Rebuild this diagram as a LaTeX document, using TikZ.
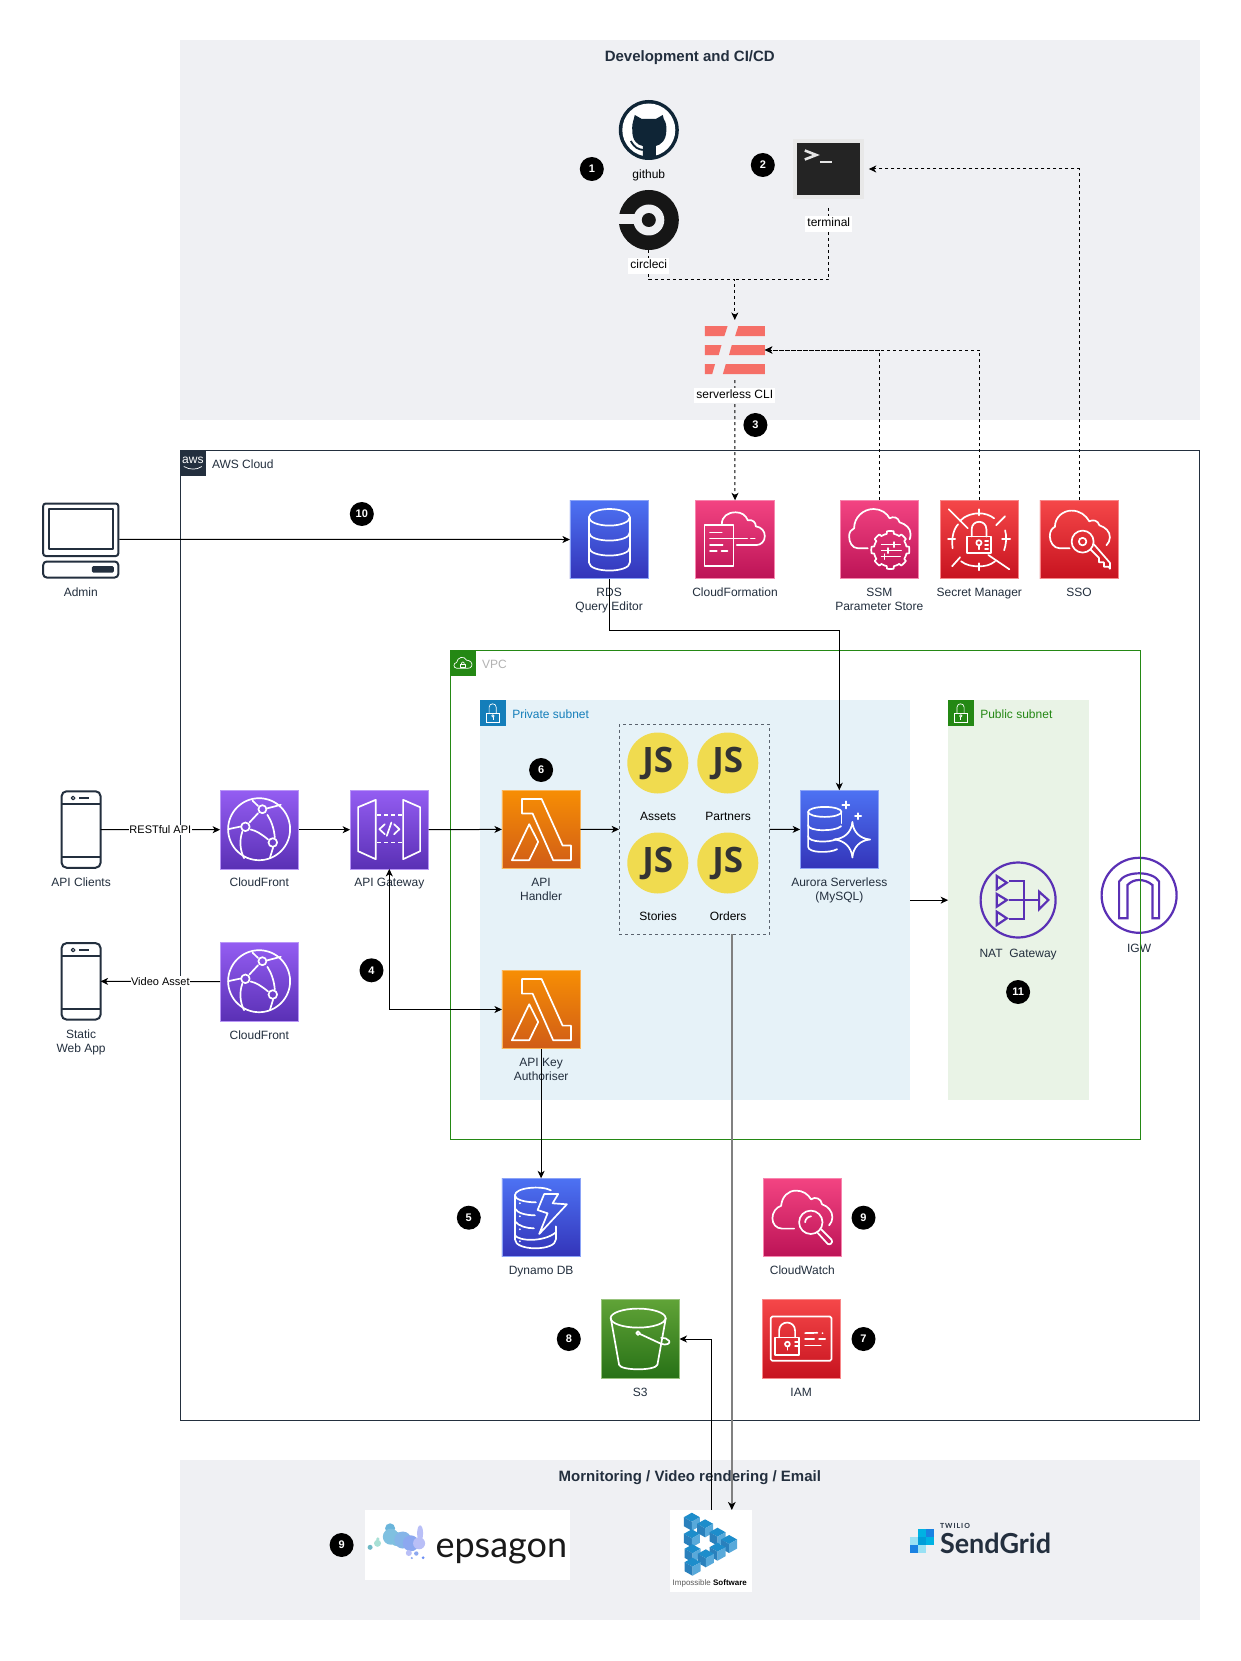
\documentclass[tikz,border=0pt]{standalone}
\usepackage{fontspec}
\usepackage{graphicx}
\usetikzlibrary{arrows.meta,calc}
\setmainfont{Liberation Sans}
\newfontfamily\latofont{Lato}
\newfontfamily\latospaced[LetterSpace=14]{Lato}
\newfontfamily\opensansfont{Open Sans}
\definecolor{ink}{HTML}{232F3E}
\definecolor{panelgrey}{HTML}{EFF0F3}
\definecolor{vpcgreen}{HTML}{248814}
\definecolor{privblue}{HTML}{147EBA}
\definecolor{privfill}{HTML}{E6F2F8}
\definecolor{pubfill}{HTML}{E9F3E6}
\definecolor{netpurple}{HTML}{5A30B5}
\definecolor{jsyellow}{HTML}{F0DB4F}
\definecolor{slsred}{HTML}{F56F67}
\definecolor{ghdark}{HTML}{0F2536}
\definecolor{ccidark}{HTML}{161616}
\definecolor{purtop}{HTML}{945DF2}\definecolor{purbot}{HTML}{5A30B5}
\definecolor{orgtop}{HTML}{F78E04}\definecolor{orgbot}{HTML}{D05C17}
\definecolor{blutop}{HTML}{4D72F3}\definecolor{blubot}{HTML}{3334B9}
\definecolor{pnktop}{HTML}{F34482}\definecolor{pnkbot}{HTML}{BC1356}
\definecolor{redtop}{HTML}{F54749}\definecolor{redbot}{HTML}{C7131F}
\definecolor{grntop}{HTML}{60A337}\definecolor{grnbot}{HTML}{277116}
\definecolor{imptop}{HTML}{1D8DCB}\definecolor{impleft}{HTML}{2A80BC}\definecolor{impright}{HTML}{58A9DA}
\definecolor{sgmid}{HTML}{00B2E3}\definecolor{sgdeep}{HTML}{1A82E2}\definecolor{sgpale}{HTML}{99E1F4}\definecolor{sgcore}{HTML}{009DD9}
\definecolor{rabA}{HTML}{6FB9C6}\definecolor{rabB}{HTML}{A8E0D5}\definecolor{rabC}{HTML}{6AB5DB}
\definecolor{rabD}{HTML}{7FC0E0}\definecolor{rabE}{HTML}{85B5E8}\definecolor{rabF}{HTML}{8CA8F0}
\definecolor{rabG}{HTML}{B9BFF7}\definecolor{rabH}{HTML}{6C8FF5}
\tikzset{
  panel/.style={rectangle,fill=panelgrey,draw=none,inner sep=0,outer sep=0},
  frame/.style={rectangle,draw=#1,fill=none,inner sep=0,outer sep=0},
  title/.style={font=\fontsize{15}{18}\selectfont\bfseries,text=ink,inner sep=0,yshift=-2pt},
  lbl/.style={font=\fontsize{12}{14}\selectfont,text=ink,align=center,inner sep=0,text height=8.6pt,text depth=2.6pt,yshift=-2pt},
  lbltwo/.style={font=\fontsize{12}{14}\selectfont,text=ink,align=center,inner sep=0,yshift=-2pt},
  lblk/.style={lbl,text=black},
  lblbg/.style={lblk,fill=white,inner xsep=2pt,inner ysep=2pt},
  edgelbl/.style={font=\fontsize{11}{13}\selectfont,text=black,fill=white,inner xsep=0.5pt,inner ysep=1pt},
  badge/.style={circle,fill=black,text=white,minimum size=24pt,inner sep=0,font=\fontsize{11}{11}\selectfont\bfseries},
  awsicon/.style 2 args={rectangle,minimum width=78.4pt,minimum height=78.4pt,inner sep=0,outer sep=0,top color=#1,bottom color=#2,draw=#1!65!white,line width=.7pt},
  purpleicon/.style={awsicon={purtop}{purbot}},
  conn/.style={draw=black,line width=1pt,-{Stealth[length=7.5pt,width=7pt,inset=2.2pt]}},
  biconn/.style={draw=black,line width=1pt,{Stealth[length=7.5pt,width=7pt,inset=2.2pt]}-{Stealth[length=7.5pt,width=7pt,inset=2.2pt]}},
  dconn/.style={conn,dash pattern=on 3pt off 3pt},
  dplain/.style={draw=black,line width=1pt,dash pattern=on 3pt off 3pt},
  greyconn/.style={draw=black!50,line width=2pt,-{Stealth[length=8pt,width=7.5pt,inset=2.2pt,color=black]}},
  glyph/.style={color=white,line width=1.7pt,line join=round,line cap=round},
  netnode/.style={circle,draw=netpurple,line width=2.2pt,minimum size=75pt,inner sep=0,outer sep=0},
  netline/.style={color=netpurple,line width=2.2pt,line join=miter},
  device/.style={color=ink,line width=2pt,line join=round},
  jsnode/.style={circle,fill=jsyellow,minimum size=61pt,inner sep=0,outer sep=0,text=black!80,font=\fontsize{35}{35}\selectfont\opensansfont\bfseries},
  smallbox/.style={rectangle,minimum width=25.4pt,minimum height=25.6pt,inner sep=0,outer sep=0},
}
\newcommand\twolines[2]{\rule{0pt}{8.6pt}#1\\\rule[-2.6pt]{0pt}{2.6pt}#2}
\newcommand\gCloudFront[1]{\begin{scope}[shift={(#1.north west)},glyph]
 \draw (39,38.7) circle (31);
 \draw (42.3,18.7) circle (4); \draw (25.3,36.3) circle (4.3); \draw (52.7,52) circle (4.3);
 \draw (22.3,41) .. controls (19,50) and (20,60) .. (24,67.7);
 \draw (47.3,24.3) .. controls (51,30) and (54,38) .. (54.7,47);
 \draw (38,22.7) -- (29.3,32);
 \draw (30.5,39) .. controls (36,40) and (42,44) .. (48,49);
 \draw (8,38.7) -- (20.5,36);
 \draw (32.3,10) -- (38,15.5); \draw (46.5,18) -- (60.7,14.3);
 \draw (53,57) -- (49.7,67.7);
\end{scope}}
\newcommand\gApiGw[1]{\begin{scope}[shift={(#1.north west)},glyph]
 \draw (8,16.7) -- (25.7,9.3) -- (25.7,68.7) -- (8,60.7) -- cycle;
 \draw (53,9.3) -- (70,16.7) -- (70,60.7) -- (53,68.7) -- cycle;
 \draw[dash pattern=on 4pt off 3pt,line cap=butt] (27,24.3) -- (52,24.3);
 \draw[dash pattern=on 4pt off 3pt,line cap=butt] (27,52) -- (52,52);
 \draw (34.7,33.7) -- (29.3,38.7) -- (34.7,43.7);
 \draw (44,33.7) -- (49.3,38.7) -- (44,43.7);
 \draw (41.3,32) -- (36.7,45.3);
\end{scope}}
\newcommand\gLambda[1]{\begin{scope}[shift={(#1.north west)},glyph]
 \draw (20,8.7) -- (39.7,8.7) -- (60.7,55.3) -- (69,55.3) -- (69,70) -- (51.3,70) -- (30.7,23.3) -- (20,23.3) -- cycle;
 \draw (27.3,34) -- (36.3,51.7) -- (27.3,70) -- (10,70) -- cycle;
\end{scope}}
\newcommand\gRds[1]{\begin{scope}[shift={(#1.north west)},glyph]
 \draw (39.5,17) ellipse [x radius=20.5,y radius=8.3];
 \draw (19,17) -- (19,62) .. controls (19,73) and (60,73) .. (60,62) -- (60,17);
 \draw (19,32) .. controls (19,43) and (60,43) .. (60,32);
 \draw (19,47) .. controls (19,58) and (60,58) .. (60,47);
\end{scope}}
\newcommand\gAurora[1]{\begin{scope}[shift={(#1.north west)},glyph]
 \draw (24.7,21.7) ellipse [x radius=16.7,y radius=5];
 \draw (8,21.7) -- (8,56.5) .. controls (8,63) and (30,63) .. (37,59);
 \draw (8,35) .. controls (8,41.5) and (35,41.5) .. (41,36);
 \draw (8,46) .. controls (8,52.5) and (30,52.5) .. (36,49);
 \draw (41.4,21.7) -- (41.4,33);
 \draw (52.3,31.7) .. controls (53,42) and (60,48.5) .. (70,49.3) .. controls (60,50) and (53,57) .. (52.3,67.3) .. controls (51.5,57) and (44,50) .. (34,49.3) .. controls (44,48.5) and (51.5,42) .. (52.3,31.7) -- cycle;
 \draw[line width=1.8pt] (42.2,14.7) -- (49.2,14.7) (45.7,11.2) -- (45.7,18.2);
 \draw[line width=1.8pt] (55,26) -- (61,26) (58,23) -- (58,29);
\end{scope}}
\newcommand\gCfn[1]{\begin{scope}[shift={(#1.north west)},glyph]
 \draw (8.7,24.7) -- (37.6,24.7) -- (37.6,65.7) -- (8.7,65.7) -- cycle;
 \draw (14.2,32.3) -- (26,32.3);
 \draw (14.2,38.3) -- (51.4,38.3) (55,38.3) -- (59,38.3);
 \draw (14.2,44.7) -- (26.8,44.7) (14.2,51) -- (21,51) (25.7,51) -- (31.6,51);
 \draw (26,24) .. controls (26,16) and (32,12) .. (40,12) .. controls (46,12) and (50,15) .. (52,20) .. controls (57,19) and (60,22) .. (60,26) .. controls (66,27) and (69,31) .. (69,36) .. controls (69,41) and (65,44.7) .. (61,44.7) -- (41,44.7);
\end{scope}}
\newcommand\gSsm[1]{\begin{scope}[shift={(#1.north west)},glyph]
 \draw (27.7,48) -- (18,48) .. controls (12,48) and (9,42) .. (9,36) .. controls (9,32) and (11,29) .. (14,28) .. controls (14,17) and (23,8.7) .. (33.6,8.7) .. controls (41,8.7) and (47,13) .. (49.5,18) .. controls (53,16) and (58,16.5) .. (59.5,22) .. controls (66,24) and (70.5,28) .. (70.5,34) .. controls (70.5,36) and (70,38) .. (69.5,39);
 \draw plot[domain=0:360,samples=145,variable=\t] ({50.2+(16.5+ifthenelse(cos(8*\t)>0,2.5,0))*cos(\t)},{49.7+(16.5+ifthenelse(cos(8*\t)>0,2.5,0))*sin(\t)});
 \draw (41.5,44.3) -- (60,44.3) (41.5,50.3) -- (61,50.3) (41.5,56.3) -- (60,56.3);
 \draw (54,41.8) -- (54,46.8) (48,47.8) -- (48,52.8) (44.5,53.8) -- (44.5,58.8);
\end{scope}}
\newcommand\gSecret[1]{\begin{scope}[shift={(#1.north west)},glyph]
 \draw (26.9,36.3) rectangle (50.6,53);
 \draw (31.6,36.3) -- (31.6,29) .. controls (31.6,19) and (46.3,19) .. (46.3,29) -- (46.3,36.3);
 \draw (38.8,42.5) circle (2.6); \draw (38.8,45) -- (38.8,49);
 \draw (45,41) -- (48,41) (45,45) -- (48,45) (45,49) -- (48,49);
 \draw (8.7,9) -- (27.7,28); \draw (48.2,54.7) -- (69.2,69);
 \draw (38.8,9) -- (38.8,15) (38.8,63) -- (38.8,70) (8,39) -- (15,39) (62,39) -- (70,39);
 \draw (65,16) -- (56,25); \draw (20,57) -- (12,66);
 \draw (20,20.5) .. controls (25,15) and (33,13) .. (38.8,13) .. controls (45,13) and (50,15) .. (54,18);
 \draw (12.5,48) .. controls (11,37) and (14,28) .. (18,24);
 \draw (65,30) .. controls (67,37) and (66,44) .. (64,50);
 \draw (21,61) .. controls (26,65) and (32,66) .. (38.8,66) .. controls (45,66) and (50,65) .. (55,61);
\end{scope}}
\newcommand\gSso[1]{\begin{scope}[shift={(#1.north west)},glyph]
 \draw (29.7,48) -- (19.8,48) .. controls (14,48) and (9.9,42) .. (9.9,36) .. controls (9.9,31) and (12,28) .. (15,26.5) .. controls (15,17) and (23,10.3) .. (31.6,10.3) .. controls (40,10.3) and (46,15) .. (49.4,21) .. controls (53,19) and (58,20) .. (59.5,25) .. controls (65.5,27) and (70,31) .. (70,37) .. controls (70,40) and (68.5,43) .. (66.5,45);
 \draw (42.7,41.3) circle (11);
 \draw (42.7,41.3) circle (3.8);
 \draw (50.5,49) -- (59,57.5) -- (59,62) -- (64,62) -- (64,66.5) -- (69,66.5) -- (70,68.5) -- (70,62.5) -- (54,44);
\end{scope}}
\newcommand\gWatch[1]{\begin{scope}[shift={(#1.north west)},glyph]
 \draw (31,50.3) -- (19,50.3) .. controls (13,50.3) and (9.3,45.5) .. (9.3,40) .. controls (9.3,34) and (13,29) .. (18,27.5) .. controls (19,18) and (25,12.3) .. (33,12.3) .. controls (40,12.3) and (45,16) .. (48,21) .. controls (52,18) and (58,20) .. (59,26) .. controls (65,28) and (69.3,33) .. (69.3,39) .. controls (69.3,42) and (68,45) .. (66,47);
 \draw (47.7,44) circle (11.7);
 \draw (42,44) .. controls (42,41) and (45,38) .. (48,38);
 \draw (58,51) -- (68.5,61.5) .. controls (70.5,64) and (66.5,67.5) .. (64.5,65.5) -- (54.5,54.5);
\end{scope}}
\newcommand\gIam[1]{\begin{scope}[shift={(#1.north west)},glyph]
 \draw[rounded corners=1.5pt] (8.7,16.7) rectangle (69.3,61);
 \draw (13,37.7) rectangle (37,55.3);
 \draw (17,37.7) -- (17,31) .. controls (17,20) and (33,20) .. (33,31) -- (33,37.7);
 \draw (25.3,44.3) circle (2.4); \draw (25.3,46.7) -- (25.3,50);
 \draw (33,42) -- (37,42) (33,46.5) -- (37,46.5);
 \draw (43,33.3) -- (55.3,33) (60.3,33.3) -- (60.6,33.3);
 \draw (43,39.3) -- (52,39.3) (57,39.3) -- (63,39.3);
 \draw (43,45.7) -- (58.7,45.7);
\end{scope}}
\newcommand\gBucket[1]{\begin{scope}[shift={(#1.north west)},glyph]
 \draw (37,18.3) ellipse [x radius=27.5,y radius=9.5];
 \draw (9.7,18.3) -- (18,65) .. controls (20,71) and (54,71) .. (56.3,65) -- (64.7,18.3);
 \draw (37,33.3) circle (1.8);
 \draw (38.5,34) -- (60,44) .. controls (65,46) and (70,43.5) .. (68,41) .. controls (66.5,38.5) and (63,38) .. (60,38);
\end{scope}}
\newcommand\gDynamo[1]{\begin{scope}[shift={(#1.north west)},glyph]
 \draw (49,12) .. controls (40,7) and (13,9) .. (13,17) .. controls (13,21) and (22,24) .. (34,24);
 \draw (13,17) -- (13,61) .. controls (13,73) and (54,73) .. (54,61) -- (54,48);
 \draw (13,30) .. controls (15,35) and (25,37) .. (33,37);
 \draw (13,43) .. controls (17,48) and (25,50) .. (32,50);
 \draw (13,57) .. controls (17,63) and (42,64) .. (54,54);
 \draw (42.3,15.7) -- (56.3,15.7) -- (50.7,25) -- (65,26) -- (37.3,55.7) -- (45.7,35) -- (35.7,31.7) -- cycle;
 \fill (18,25) circle (1) (18,38) circle (1) (18,51) circle (1) (18,63) circle (1);
\end{scope}}
\newcommand\gPadlock[1]{\begin{scope}[shift={(#1.north west)},color=white,line width=.7pt]
 \draw (6.3,12.7) rectangle (19.3,22);
 \draw (8.9,12.7) -- (8.9,7) .. controls (8.9,2.5) and (16,2.5) .. (16,7) -- (16,12.7);
 \draw (12.7,15.7) circle (1.2); \draw (12.7,17) -- (12.7,19.7);
\end{scope}}
\newcommand\impcube[2]{\begin{scope}[shift={(#1,#2)}]
 \fill[imptop] (0,-9) -- (8,-4.5) -- (0,0) -- (-8,-4.5) -- cycle;
 \fill[impleft] (-8,-4.5) -- (0,0) -- (0,9) -- (-8,4.5) -- cycle;
 \fill[impright] (8,-4.5) -- (0,0) -- (0,9) -- (8,4.5) -- cycle;
\end{scope}}
\begin{document}
\begin{tikzpicture}[x=1pt,y=-1pt]
\useasboundingbox (-0.8,0) rectangle (1239.2,1661);
\fill[white] (-0.8,0) rectangle (1239.2,1661);
% panels
\node[panel,minimum width=1019.6pt,minimum height=380pt] (dev) at (689.2,230) {};
\node[panel,minimum width=1019.6pt,minimum height=160pt] (mon) at (689.2,1540) {};
\node[title] (devtitle) at (689,56) {Development and CI/CD};
\node[title] (montitle) at (689,1476) {Mornitoring / Video rendering / Email};
\node[frame=ink,line width=1pt,minimum width=1019.6pt,minimum height=970pt] (aws) at (689.2,935.3) {};
\node[smallbox,fill=ink,minimum height=25.7pt] (awslogo) at (192.1,463.1) {};
\node[inner sep=0,text=white,font=\fontsize{12}{12}\selectfont] (awsword) at (192.1,460) {aws};
\draw[white,line width=.7pt] (183,466.5) .. controls (189,470) and (196,470) .. (201,466.5);
\node[lbl,anchor=west] (awstxt) at (211,463.7) {AWS Cloud};
\node[panel,fill=privfill,minimum width=429.9pt,minimum height=399.7pt] (private) at (694.35,900.15) {};
\node[panel,fill=pubfill,minimum width=140.4pt,minimum height=399.7pt] (public) at (1017.5,900.15) {};
\node[smallbox,fill=privblue] (privicon) at (492.1,713) {};
\gPadlock{privicon}
\node[lbl,text=privblue,anchor=west] (privtxt) at (511.3,713.7) {Private subnet};
\node[smallbox,fill=vpcgreen] (pubicon) at (960,713) {};
\gPadlock{pubicon}
\node[lbl,text=vpcgreen,anchor=west] (pubtxt) at (979.3,713.7) {Public subnet};
% IGW under the VPC frame
\node[netnode] (igw) at (1138.3,895.3) {};
\begin{scope}[shift={(igw.center)},netline]
 \draw (-20,23) -- (-20,-13.7) .. controls (-17,-19) and (-9,-22) .. (0,-22) .. controls (9,-22) and (17,-19) .. (20,-13.7) -- (20,23) -- (13.3,23) -- (13.3,-10.3) .. controls (9,-14) and (4,-15.3) .. (0,-15.3) .. controls (-4,-15.3) and (-8,-14) .. (-11.7,-10.3) -- (-11.7,23) -- cycle;
\end{scope}
\node[lbl] (igwl) at (1138.3,947.7) {IGW};
\node[frame=vpcgreen,line width=.9pt,minimum width=690.1pt,minimum height=488.7pt] (vpc) at (794.45,894.65) {};
\node[smallbox,fill=vpcgreen] (vpcicon) at (462,663) {};
\begin{scope}[shift={(vpcicon.north west)},color=white,line width=.7pt,line join=round]
 \draw (10,18) -- (6.5,18) .. controls (3,18) and (3,12.5) .. (6.5,12.3) .. controls (7,7) and (14,5) .. (16.5,10) .. controls (20,10) and (23,13) .. (21.5,16) .. controls (21,17.5) and (19.5,18) .. (18,18) -- cycle;
 \draw (10.5,14) rectangle (15,17.5);
 \draw (11.3,14) .. controls (11.3,11) and (14.2,11) .. (14.2,14);
\end{scope}
\node[lbl,text=black!30,anchor=west] (vpctxt) at (481,663.7) {VPC};
\node[frame=ink!75!white,line width=.8pt,dash pattern=on 3pt off 3pt,minimum width=150.4pt,minimum height=210pt] (jsbox) at (693.5,829.3) {};
% dev tools
\node[circle,fill=ghdark,minimum size=60pt,inner sep=0,outer sep=0] (github) at (648,130) {};
\fill[white] (github.center) circle (26.5);
\fill[ghdark] (631.5,131) .. controls (631,126) and (632,122) .. (633,119) -- (634,115) -- (641,119) -- (655,119) -- (662,115) -- (663,119) .. controls (665,122) and (666,126) .. (665.5,131) .. controls (665.5,140) and (660,145) .. (655,146) -- (655,159) -- (642,159) -- (642,146) .. controls (636,145) and (631.5,140) .. (631.5,131) -- cycle;
\draw[ghdark,line width=1.8pt] (630,141) .. controls (634,148) and (637,149) .. (642,150);
\node[lblk] (githubl) at (648,174) {github};
\node[circle,fill=ccidark,minimum size=60pt,inner sep=0,outer sep=0] (circleci) at (648,220) {};
\fill[panelgrey] (circleci.center) circle (15.5);
\fill[panelgrey] (616,214) rectangle (640,224);
\fill[ccidark] (circleci.center) circle (7);
\node[rectangle,fill=black!9,minimum width=71pt,minimum height=60pt,inner sep=0,outer sep=0] (terminal) at (828,169) {};
\fill[black!86] (796.4,142.7) rectangle (859.3,194.7);
\draw[white!90!black,line width=2.6pt,line join=miter] (804,150.5) -- (815.5,155) -- (804,159.5);
\draw[white!90!black,line width=2.6pt] (819,162) -- (831.4,162);
\node[rectangle,minimum width=60pt,minimum height=48pt,inner sep=0,outer sep=0] (sls) at (734,350) {};
\fill[slsred] (704,326) -- (726.8,326) -- (723.6,336) -- (704,336) -- cycle;
\fill[slsred] (737.5,326) -- (764,326) -- (764,336) -- (734.3,336) -- cycle;
\fill[slsred] (704,345) -- (720.7,345) -- (717.9,355) -- (704,355) -- cycle;
\fill[slsred] (731,345) -- (764,345) -- (764,355) -- (728.2,355) -- cycle;
\fill[slsred] (704,364) -- (714.3,364) -- (711.4,374) -- (704,374) -- cycle;
\fill[slsred] (725,364) -- (764,364) -- (764,374) -- (722.1,374) -- cycle;
% aws icons
\node[awsicon={blutop}{blubot}] (rds) at (608.3,539.5) {}; \gRds{rds}
\node[awsicon={pnktop}{pnkbot}] (cfn) at (734.2,539.5) {}; \gCfn{cfn}
\node[awsicon={pnktop}{pnkbot}] (ssm) at (878.5,539.5) {}; \gSsm{ssm}
\node[awsicon={redtop}{redbot}] (secret) at (978.5,539.5) {}; \gSecret{secret}
\node[awsicon={redtop}{redbot}] (sso) at (1078.3,539.5) {}; \gSso{sso}
\node[purpleicon] (cf1) at (258.5,829.7) {}; \gCloudFront{cf1}
\node[purpleicon] (cf2) at (258.5,981.7) {}; \gCloudFront{cf2}
\node[purpleicon] (apigw) at (388.5,829.7) {}; \gApiGw{apigw}
\node[awsicon={orgtop}{orgbot}] (handler) at (540.3,829.4) {}; \gLambda{handler}
\node[awsicon={orgtop}{orgbot}] (keyauth) at (540.3,1009.5) {}; \gLambda{keyauth}
\node[awsicon={blutop}{blubot}] (aurora) at (838.5,829.4) {}; \gAurora{aurora}
\node[awsicon={blutop}{blubot}] (dynamo) at (540.3,1217.5) {}; \gDynamo{dynamo}
\node[awsicon={pnktop}{pnkbot}] (watch) at (801.5,1217.5) {}; \gWatch{watch}
\node[awsicon={grntop}{grnbot}] (s3) at (639.5,1339) {}; \gBucket{s3}
\node[awsicon={redtop}{redbot}] (iam) at (800.5,1339) {}; \gIam{iam}
% JS lambdas
\node[jsnode] (jsassets) at (657,763) {\raisebox{-1.5pt}{JS}};
\node[jsnode] (jspartners) at (727,763) {\raisebox{-1.5pt}{JS}};
\node[jsnode] (jsstories) at (657,863) {\raisebox{-1.5pt}{JS}};
\node[jsnode] (jsorders) at (727,863) {\raisebox{-1.5pt}{JS}};
% NAT
\node[netnode] (nat) at (1017.3,900) {};
\begin{scope}[shift={(nat.center)},netline]
 \draw (-21.3,-24) -- (-21.3,-10.7) -- (-11.3,-17.3) -- cycle;
 \draw (-21.3,-6) -- (-21.3,6.7) -- (-11.3,0) -- cycle;
 \draw (-21.3,11.7) -- (-21.3,25) -- (-11.3,18.3) -- cycle;
 \draw (-9,-19.3) -- (5.9,-19.3) -- (5.9,19.3) -- (-9,19.3);
 \draw (-9,0) -- (21,0);
 \draw (21,-8.3) -- (21,9.3) -- (30.3,0) -- cycle;
\end{scope}
% people
\node[rectangle,minimum width=77pt,minimum height=78pt,inner sep=0,outer sep=0] (admin) at (80,539.3) {};
\begin{scope}[device]
 \draw[rounded corners=2.5pt] (42.4,503.5) rectangle (117.5,556);
 \draw (48.5,509.3) rectangle (112,549.3);
 \draw[rounded corners=3.5pt] (42.4,561.5) rectangle (117.5,577.5);
 \fill[rounded corners=1.5pt] (91,566) rectangle (113,572.7);
\end{scope}
\node[rectangle,draw=ink,line width=2pt,rounded corners=5pt,minimum width=39pt,minimum height=76.5pt,inner sep=0,outer sep=0,fill=white] (clients) at (80.3,829.5) {};
\node[rectangle,draw=ink,line width=2pt,rounded corners=5pt,minimum width=39pt,minimum height=76.5pt,inner sep=0,outer sep=0,fill=white] (webapp) at (80.3,981.35) {};
\begin{scope}[device]
 \draw (60.8,804) -- (99.8,804) (60.8,857.3) -- (99.8,857.3);
 \draw[line width=1.2pt] (72.3,798) circle (1.8);
 \draw (78.3,798) -- (88.3,798);
 \draw (60.8,956) -- (99.8,956) (60.8,1009.3) -- (99.8,1009.3);
 \draw[line width=1.2pt] (72.3,950) circle (1.8);
 \draw (78.3,950) -- (88.3,950);
\end{scope}
% external
\node[rectangle,fill=white,minimum width=205pt,minimum height=70pt,inner sep=0,outer sep=0] (epsagon) at (466.7,1545) {};
\fill[rabA] (369.3,1547.3) circle (2.5);
\fill[rabB] (376.7,1543.3) circle (3.5);
\fill[rabB] (377,1539) circle (1.8);
\fill[rabC] (389.3,1528.3) circle (5);
\fill[rabD] (390,1536.7) circle (8);
\fill[rabD] (396,1539) circle (7);
\fill[rabE] (402,1540) circle (8.5);
\fill[rabF] (410,1543.3) circle (8);
\fill[rabG] (418.3,1543.3) circle (6);
\fill[rabG] (419.3,1533.3) ellipse [x radius=3,y radius=8];
\fill[rabG] (408,1553) circle (3);
\fill[rabF] (415.5,1553.5) circle (2.2);
\fill[rabH] (422.3,1557.7) circle (1.5);
\fill[rabF] (411,1558) circle (1.2);
\node[inner sep=0,anchor=base west,font=\fontsize{36}{36}\selectfont\latofont,text=black!90] (epstxt) at (434.5,1557) {epsagon};
\node[rectangle,fill=white,minimum width=82pt,minimum height=82pt,inner sep=0,outer sep=0] (imp) at (710.2,1551) {};
\impcube{691}{1521.7}
\impcube{704.3}{1528.3}
\impcube{716.7}{1536.7}
\impcube{691}{1538.3}
\impcube{728.3}{1544}
\impcube{716.7}{1551.7}
\impcube{691.7}{1553.3}
\impcube{705}{1558.3}
\impcube{691.7}{1566.7}
\node[inner sep=0,font=\fontsize{8}{8}\selectfont] (imptxt) at (709,1583) {\textcolor{black!65}{Impossible} \textbf{Software}};
\node[inner sep=0,outer sep=0,minimum width=24.4pt,minimum height=24.4pt] (sgicon) at (921.2,1541.2) {};
\fill[sgmid] (917.1,1529) rectangle (925.2,1537.1);
\fill[sgdeep] (925.2,1529) rectangle (933.3,1537.1);
\fill[sgpale] (909,1537.1) rectangle (917.1,1545.2);
\fill[sgcore] (917.1,1537.1) rectangle (925.2,1545.2);
\fill[sgmid] (925.2,1537.1) rectangle (933.3,1545.2);
\fill[sgdeep] (909,1545.2) rectangle (917.1,1553.3);
\fill[sgpale] (917.1,1545.2) rectangle (925.2,1553.3);
\node[inner sep=0,anchor=base west,text=ink] (sgtxt) at (939,1553.3) {\resizebox{111pt}{20.5pt}{\latofont\bfseries SendGrid}};
\node[inner sep=0,anchor=base west,text=ink,font=\fontsize{7}{7}\selectfont\latospaced\bfseries] (sgtw) at (939,1528.5) {TWILIO};
% labels (connectors run over them)
\node[lbl] (adminl) at (80,591.7) {Admin};
\node[lbltwo] (rdsl) at (608.3,598.7) {\twolines{RDS}{Query Editor}};
\node[lbl] (cfnl) at (734.2,591.7) {CloudFormation};
\node[lbltwo] (ssml) at (878.5,598.7) {\twolines{SSM}{Parameter Store}};
\node[lbl] (secretl) at (978.5,591.7) {Secret Manager};
\node[lbl] (ssol) at (1078.3,591.7) {SSO};
\node[lbl] (clientsl) at (80.3,881.7) {API Clients};
\node[lbl] (cf1l) at (258.5,881.7) {CloudFront};
\node[lbl] (apigwl) at (388.5,881.7) {API Gateway};
\node[lbltwo] (handlerl) at (540.3,888.7) {\twolines{API}{Handler}};
\node[lbltwo] (aurl) at (838.5,888.7) {\twolines{Aurora Serverless}{(MySQL)}};
\node[lbltwo] (webl) at (80.3,1040.8) {\twolines{Static}{Web App}};
\node[lbl] (cf2l) at (258.5,1034) {CloudFront};
\node[lbltwo] (keyl) at (540.3,1068.7) {\twolines{API Key}{Authoriser}};
\node[lbl] (natl) at (1017.3,952.7) {NAT\ \ Gateway};
\node[lbl] (dynl) at (540.3,1269.7) {Dynamo DB};
\node[lbl] (watchl) at (801.5,1269.7) {CloudWatch};
\node[lbl] (s3l) at (639.3,1391.7) {S3};
\node[lbl] (iaml) at (800.3,1391.7) {IAM};
\node[lblk] (l1) at (657.3,815.7) {Assets};
\node[lblk] (l2) at (727.3,815.7) {Partners};
\node[lblk] (l3) at (657.3,915.7) {Stories};
\node[lblk] (l4) at (727.3,915.7) {Orders};
% badges
\node[badge] (b1) at (591,169) {1};
\node[badge] (b2) at (762,165) {2};
\node[badge] (b3) at (754.6,425) {3};
\node[badge] (b4) at (370.7,970.3) {4};
\node[badge] (b5) at (468,1217.7) {5};
\node[badge] (b6) at (540.3,770) {6};
\node[badge] (b7) at (862.7,1339) {7};
\node[badge] (b8) at (568,1339) {8};
\node[badge] (b9a) at (862.7,1217.7) {9};
\node[badge] (b9b) at (340.8,1545) {9};
\node[badge] (b10) at (361,514) {10};
\node[badge] (b11) at (1017.3,992) {11};
% connectors
\coordinate (merge) at (734,280);
\coordinate (rdsbend) at (700,630.3);
\draw[dconn] (circleci.south) |- (merge) -- ([yshift=6pt]sls.north);
\draw[dplain,shorten <=9pt] (terminal.south) |- (merge);
\draw[dconn,shorten <=6pt] (sls.south) -- (cfn.north);
\draw[dconn] (ssm.north) |- (sls.east);
\draw[dconn] (secret.north) |- (sls.east);
\draw[dconn,shorten >=4.5pt] (sso.north) |- (terminal.east);
\draw[conn] (admin.east) -- (rds.west);
\draw[conn] (rds.south) |- (rdsbend) -| (aurora.north);
\draw[conn] (clients.east) -- node[edgelbl] {RESTful API} (cf1.west);
\draw[conn] (cf2.west) -- node[edgelbl] {Video Asset} (webapp.east);
\draw[conn] (cf1.east) -- (apigw.west);
\draw[conn] (apigw.east) -- (handler.west);
\draw[biconn] (apigw.south) |- (keyauth.west);
\draw[conn] (handler.east) -- (jsbox.west);
\draw[conn] (jsbox.east) -- (aurora.west);
\draw[conn] (private.east) -- (public.west);
\draw[conn] (keyauth.south) -- (dynamo.north);
\draw[greyconn] ([xshift=37.5pt]jsbox.south) -- ([xshift=20.8pt]imp.north);
\draw[conn] (imp.north) |- (s3.east);
% labels with a white ground
\node[lblbg] (terml) at (828,222) {terminal};
\node[lblbg] (ccil) at (648,264) {circleci};
\node[lblbg] (slsl) at (734,393.7) {serverless CLI};
\end{tikzpicture}
\end{document}
